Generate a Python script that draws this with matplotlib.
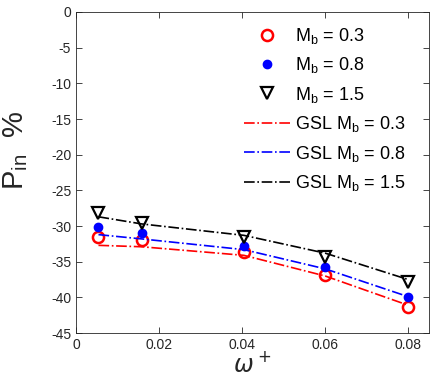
import matplotlib.pyplot as plt
import numpy as np

# 数据
omega = [0.0054, 0.0158, 0.0404, 0.0600, 0.0800]

p_03 = [-31.5, -32.0, -33.6, -36.9, -41.4]
p_08 = [-30.2, -31.0, -32.8, -35.7, -40.0]
p_15 = [-28.2, -29.6, -31.6, -34.3, -37.9]

gsl_03 = [-32.7, -32.9, -34.1, -37.0, -41.1]
gsl_08 = [-31.2, -31.8, -33.3, -36.0, -39.9]
gsl_15 = [-28.7, -29.7, -31.3, -33.8, -37.5]

plt.rcParams['font.family'] = ['Liberation Sans', 'DejaVu Sans']
plt.rcParams['mathtext.fontset'] = 'dejavusans'
plt.rcParams['axes.unicode_minus'] = False

fig = plt.figure(figsize=(4.37, 3.86), dpi=100)
ax = fig.add_axes([0.174, 0.137, 0.808, 0.832])

ax.plot(omega, p_03, 'o', color='r', mfc='none', mew=1.8, ms=8, label=r'M$_\mathregular{b}$ = 0.3')
ax.plot(omega, p_08, 'o', color='b', ms=6, label=r'M$_\mathregular{b}$ = 0.8')
ax.plot(omega, p_15, 'v', color='k', mfc='none', mew=1.6, ms=9, label=r'M$_\mathregular{b}$ = 1.5')
ax.plot(omega, gsl_03, '-.', color='r', lw=1.2, label=r'GSL M$_\mathregular{b}$ = 0.3')
ax.plot(omega, gsl_08, '-.', color='b', lw=1.2, label=r'GSL M$_\mathregular{b}$ = 0.8')
ax.plot(omega, gsl_15, '-.', color='k', lw=1.2, label=r'GSL M$_\mathregular{b}$ = 1.5')

ax.set_xlim(0, 0.085)
ax.set_ylim(-45, 0)
ax.set_xticks([0, 0.02, 0.04, 0.06, 0.08])
ax.set_xticklabels(['0', '0.02', '0.04', '0.06', '0.08'])
ax.set_yticks(np.arange(-45, 1, 5))
ax.tick_params(direction='in', top=True, right=True, labelsize=10,
               colors='#262626', length=4, width=0.6)
for s in ax.spines.values():
    s.set_color('#262626')
    s.set_linewidth(0.6)

ax.set_xlabel(r'$\omega^+$', fontsize=17, color='#262626', labelpad=0)
ax.set_ylabel(r'P$_\mathregular{in}$  %', fontsize=21, color='#262626')
ax.yaxis.set_label_coords(-0.13, 0.57)

ax.legend(loc='upper right', frameon=False, fontsize=13, handlelength=2.6,
          labelspacing=0.52, borderaxespad=0.2, handletextpad=0.25,
          bbox_to_anchor=(0.965, 0.99))

plt.savefig('out.png', dpi=100)
